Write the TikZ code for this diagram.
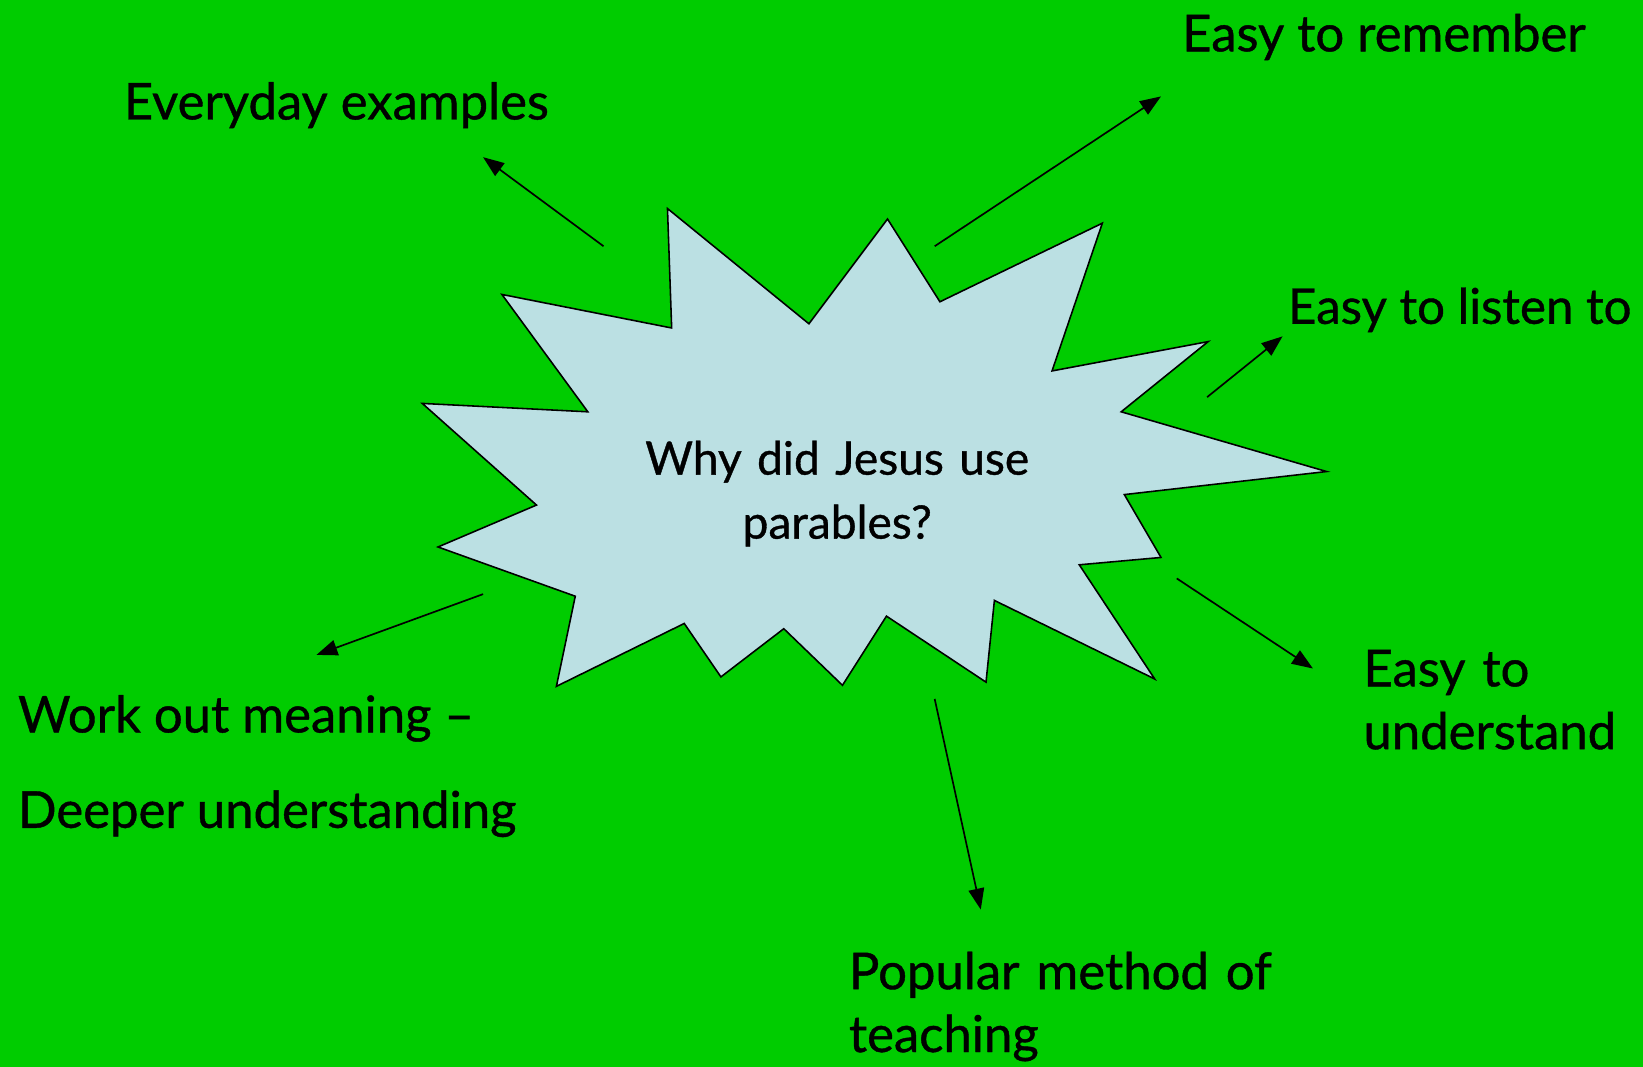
\documentclass[tikz,border=0pt]{standalone}
\usepackage{fontspec}
\setmainfont{Lato}
\newfontfamily\lblfont{Lato}[FakeBold=0.8]
\usetikzlibrary{arrows.meta}
\definecolor{bggreen}{RGB}{0,204,0}
\definecolor{starblue}{RGB}{187,224,227}
\tikzset{
  lbl/.style={inner sep=0pt, anchor=base west, font=\lblfont\fontsize{48.5}{60}\selectfont},
  arr/.style={line width=1.6pt, -{Triangle[length=20pt,width=15pt]}},
}
\begin{document}
\begin{tikzpicture}[x=1pt,y=-1pt]
\fill[bggreen] (0,0) rectangle (1568,1018);
\useasboundingbox (0,0) rectangle (1568,1018);
% star
\draw[fill=starblue, line width=1.5pt, line join=miter]
 (637,199) -- (772,309) -- (847,209) -- (897,288) -- (1052,213) -- (1004,354)
 -- (1153,326) -- (1070,393) -- (1266,450) -- (1073,472) -- (1108,532)
 -- (1030,539) -- (1102,648) -- (949,573) -- (941,651) -- (846,588)
 -- (804,654) -- (748,600) -- (688,646) -- (653,595) -- (531,655)
 -- (549,569) -- (418,522) -- (512,482) -- (403,385) -- (561,393)
 -- (479,281) -- (641,313) -- cycle;
% labels
\node[lbl, font=\lblfont\fontsize{44}{61}\selectfont, text width=400pt, align=center, anchor=base] (q) at (799,453) {Why did Jesus use\\parables?};
\node[lbl] (ev) at (118,114) {Everyday examples};
\node[lbl] (rem) at (1128,49) {Easy to remember};
\node[lbl, font=\lblfont\fontsize{47}{60}\selectfont] (lis) at (1229,309) {Easy to listen to};
\node[lbl, text width=300pt, align=left] (und) at (1301,655) {Easy to\\understand};
\node[lbl, text width=450pt, align=left] (pop) at (810,944) {Popular method of\\teaching};
\node[lbl] (work) at (17,699) {Work out meaning –};
\node[lbl] (deep) at (17,790) {Deeper understanding};
% arrow ends
\coordinate (a1s) at (576,235); \coordinate (a1e) at (461,150);
\coordinate (a2s) at (892,235); \coordinate (a2e) at (1108,92);
\coordinate (a3s) at (1152,379); \coordinate (a3e) at (1224,321);
\coordinate (a4s) at (1123,552); \coordinate (a4e) at (1253,638);
\coordinate (a5s) at (892,667); \coordinate (a5e) at (936,868);
\coordinate (a6s) at (461,567); \coordinate (a6e) at (302,625);
\draw[arr] (a1s) -- (a1e);
\draw[arr] (a2s) -- (a2e);
\draw[arr] (a3s) -- (a3e);
\draw[arr] (a4s) -- (a4e);
\draw[arr] (a5s) -- (a5e);
\draw[arr] (a6s) -- (a6e);
\end{tikzpicture}
\end{document}
